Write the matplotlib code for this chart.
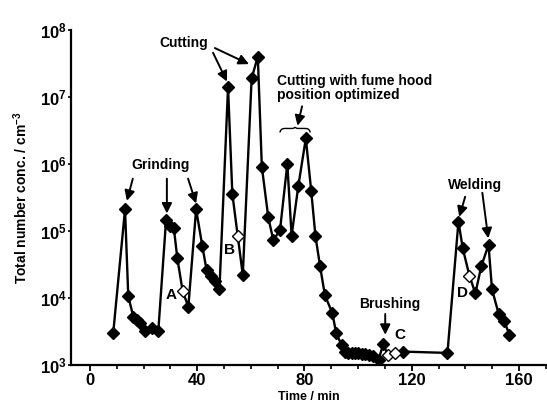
import numpy as np
import matplotlib
matplotlib.use("Agg")
import matplotlib.pyplot as plt
from matplotlib.ticker import FixedLocator, NullLocator, FixedFormatter

plt.rcParams['font.family'] = ['Liberation Sans', 'DejaVu Sans']
plt.rcParams['font.weight'] = 'bold'
plt.rcParams['mathtext.fontset'] = 'custom'
plt.rcParams['mathtext.rm'] = 'Liberation Sans:bold'
plt.rcParams['mathtext.bf'] = 'Liberation Sans:bold'
plt.rcParams['mathtext.it'] = 'Liberation Sans:bold'

# ---- data (time in min, total number concentration in cm^-3) ----
time_min = [8.7, 13.1, 14.3, 16.2, 17.4, 18.7, 20.5, 23.0, 25.5,
            28.4, 29.9, 31.3, 32.6, 34.6, 36.7, 39.6, 41.9, 43.5, 45.1, 46.6, 48.3,
            51.5, 53.1, 55.1, 57.0, 60.3, 62.6, 64.1, 66.5, 68.4, 70.9,
            73.6, 75.2, 77.7, 80.5, 82.5, 84.1, 85.8, 87.6, 90.4, 91.8, 93.9,
            95.1, 96.4, 97.6, 98.9, 100.1, 101.4, 102.6, 103.9, 105.7, 107.6,
            109.4, 111.0, 113.8, 116.7, 133.3,
            137.4, 139.0, 141.5, 143.7, 145.9, 148.6, 149.9, 152.4, 154.5, 156.4]
conc = [3.0e3, 2.1e5, 1.07e4, 5.2e3, 4.7e3, 4.2e3, 3.2e3, 3.5e3, 3.2e3,
        1.45e5, 1.2e5, 1.1e5, 3.9e4, 1.25e4, 7.4e3, 2.1e5, 6.0e4, 2.6e4, 2.1e4, 1.8e4, 1.35e4,
        1.4e7, 3.6e5, 8.5e4, 2.2e4, 1.9e7, 4.0e7, 9.1e5, 1.6e5, 7.2e4, 1.05e5,
        1.0e6, 8.5e4, 4.7e5, 2.4e6, 4.0e5, 8.3e4, 3.0e4, 1.1e4, 5.9e3, 3.0e3, 1.95e3,
        1.58e3, 1.53e3, 1.48e3, 1.53e3, 1.48e3, 1.45e3, 1.45e3, 1.41e3, 1.35e3, 1.2e3,
        2.05e3, 1.41e3, 1.48e3, 1.58e3, 1.51e3,
        1.38e5, 5.5e4, 2.14e4, 1.17e4, 2.95e4, 6.2e4, 1.35e4, 5.75e3, 4.47e3, 2.82e3]
# open (unfilled) markers: sampling points A, B, C, D
is_open = [False] * len(time_min)
for t_open in (34.6, 55.1, 111.0, 113.8, 141.5):
    is_open[time_min.index(t_open)] = True

x_ticks = [0, 40, 80, 120, 160]
x_tick_labels = ['0', '40', '80', '120', '160']
y_ticks = [1e3, 1e4, 1e5, 1e6, 1e7, 1e8]
y_tick_labels = [r'$10^{3}$', r'$10^{4}$', r'$10^{5}$', r'$10^{6}$', r'$10^{7}$', r'$10^{8}$']

# ---- figure ----
fig = plt.figure(figsize=(5.47, 4.05), dpi=100)
ax = fig.add_axes([0.130, 0.099, 0.868, 0.827])

t = np.array(time_min)
c = np.array(conc)
op = np.array(is_open)

ax.plot(t, c, color='black', lw=1.7, zorder=2)
ax.plot(t[~op], c[~op], ls='none', marker='D', ms=6.2, mfc='black', mec='black', zorder=3)
ax.plot(t[op], c[op], ls='none', marker='D', ms=6.2, mfc='white', mec='black', mew=1.0, zorder=4)

ax.set_yscale('log')
ax.set_xlim(-7, 170)
ax.set_ylim(1e3, 1e8)

ax.xaxis.set_major_locator(FixedLocator(x_ticks))
ax.xaxis.set_major_formatter(FixedFormatter(x_tick_labels))
ax.xaxis.set_minor_locator(FixedLocator(np.arange(0, 171, 10)))
ax.yaxis.set_major_locator(FixedLocator(y_ticks))
ax.yaxis.set_major_formatter(FixedFormatter(y_tick_labels))
ax.yaxis.set_minor_locator(NullLocator())

for s in ('top', 'right'):
    ax.spines[s].set_visible(False)
for s in ('left', 'bottom'):
    ax.spines[s].set_linewidth(1.6)

ax.tick_params(axis='x', which='major', direction='out', length=4, width=1.3,
               labelsize=12, pad=2)
ax.tick_params(axis='x', which='minor', direction='out', length=3, width=1.2)
ax.tick_params(axis='y', which='major', direction='out', length=2, width=1.2,
               labelsize=12, pad=1)

ax.set_xlabel('Time / min', fontsize=9, fontweight='bold', labelpad=2)
ax.set_ylabel(r'Total number conc. / cm$^{-3}$', fontsize=10, fontweight='bold', labelpad=7)

# ---- annotations ----
def L(v):
    return 10 ** v

arrow_kw = dict(arrowstyle='-|>,head_length=0.6,head_width=0.3', color='black', lw=1.4,
                shrinkA=0, shrinkB=0)

def arrow(x0, y0, x1, y1):
    ax.annotate('', xy=(x1, L(y1)), xytext=(x0, L(y0)), arrowprops=arrow_kw)

fs = 10
ax.text(26.5, L(5.99), 'Grinding', ha='center', va='center', fontsize=fs, fontweight='bold')
arrow(16.0, 5.78, 13.8, 5.45)
arrow(28.7, 5.78, 28.7, 5.26)
arrow(36.6, 5.78, 39.6, 5.41)

ax.text(35.1, L(7.81), 'Cutting', ha='center', va='center', fontsize=fs, fontweight='bold')
arrow(45.9, 7.66, 51.1, 7.23)
arrow(46.6, 7.73, 59.3, 7.49)

ax.text(69.8, L(7.13), 'Cutting with fume hood\nposition optimized', ha='left', va='center',
        fontsize=fs, fontweight='bold', linespacing=1.0)
# brace
bx = np.linspace(70.9, 82.1, 60)
u = (bx - bx[0]) / (bx[-1] - bx[0])
by = 6.53 - 0.05 * (np.abs(2 * u - 1) ** 12) + 0.015 * np.exp(-((u - 0.5) / 0.04) ** 2)
ax.plot(bx, L(by), color='black', lw=1.0)
arrow(79.1, 6.86, 77.4, 6.57)

ax.text(111.6, L(3.91), 'Brushing', ha='center', va='center', fontsize=fs, fontweight='bold')
arrow(110.1, 3.76, 110.1, 3.45)

ax.text(143.7, L(5.69), 'Welding', ha='center', va='center', fontsize=fs, fontweight='bold')
arrow(139.9, 5.51, 137.7, 5.21)
arrow(146.3, 5.57, 148.5, 4.89)

for lab, tx, ly in (('A', 30.2, 4.04), ('B', 51.9, 4.72), ('C', 115.7, 3.45), ('D', 138.8, 4.07)):
    ax.text(tx, L(ly), lab, ha='center', va='center', fontsize=11, fontweight='bold')

fig.savefig('out.png', dpi=100)
